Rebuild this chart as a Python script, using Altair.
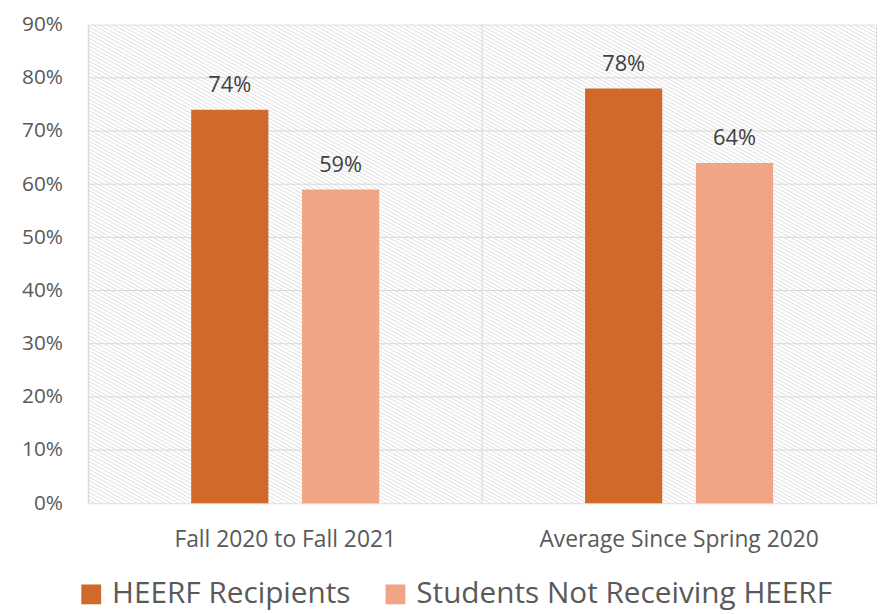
import altair as alt
import pandas as pd
import numpy as np

# ---- data ----
categories = ["Fall 2020 to Fall 2021", "Average Since Spring 2020"]
series = ["HEERF Recipients", "Students Not Receiving HEERF"]
heerf_values = [74, 78]
non_heerf_values = [59, 64]
y_ticks = [0, 10, 20, 30, 40, 50, 60, 70, 80, 90]
colors = ["#D0692A", "#F1A586"]

rows = []
for ci, cat in enumerate(categories):
    rows.append({"category": cat, "series": series[0], "value": heerf_values[ci]})
    rows.append({"category": cat, "series": series[1], "value": non_heerf_values[ci]})
df = pd.DataFrame(rows)
df["label"] = df["value"].astype(int).astype(str) + "%"

W, H = 796, 483
FONT = "Open Sans"
GRID = "#d9d9d9"

# decorative background hatch (diagonal lines), built in pixel units
slope = 0.55
dx = H / slope
hatch_starts = np.arange(-dx, W + 8, 7.0)
hatch = pd.DataFrame({"x": hatch_starts, "x2": hatch_starts + dx,
                      "y": [90] * len(hatch_starts), "y2": [0] * len(hatch_starts)})

yscale = alt.Scale(domain=[0, 90], nice=False, zero=True)
xscale = alt.Scale(paddingInner=0, paddingOuter=0)
yaxis = alt.Axis(title=None, values=y_ticks, labelExpr="datum.value + '%'",
                 ticks=False, domain=False, grid=False, labelFont=FONT,
                 labelFontSize=21, labelColor="#595959", labelPadding=26)

hatch_layer = alt.Chart(hatch).mark_rule(color="#dedede", strokeWidth=1, clip=True).encode(
    x=alt.X("x:Q", scale=alt.Scale(domain=[0, W], nice=False, zero=False), axis=None),
    x2="x2:Q",
    y=alt.Y("y:Q", scale=yscale, axis=yaxis),
    y2="y2:Q",
)

grid_df = pd.DataFrame({"g": y_ticks[1:-1]})
grid_layer = alt.Chart(grid_df).mark_rule(color=GRID, strokeWidth=1).encode(
    y=alt.Y("g:Q", scale=yscale, axis=yaxis)
)

cat_df = pd.DataFrame({"category": categories})
divider_layer = alt.Chart(cat_df).mark_rule(color=GRID, strokeWidth=1).encode(
    x=alt.X("category:N", sort=categories, scale=xscale, bandPosition=0, axis=None)
)

xoff = alt.XOffset("series:N", sort=series,
                   scale=alt.Scale(paddingInner=0.3036, paddingOuter=0.9286))

bars = alt.Chart(df).mark_bar().encode(
    x=alt.X("category:N", sort=categories, scale=xscale,
            axis=alt.Axis(title=None, ticks=False, domain=False, grid=False, labelAngle=0,
                          orient="bottom", labelFont=FONT, labelFontSize=23,
                          labelColor="#595959", labelPadding=26, labelLimit=0)),
    xOffset=xoff,
    y=alt.Y("value:Q", scale=yscale, axis=yaxis),
    color=alt.Color("series:N", sort=series,
                    scale=alt.Scale(domain=series, range=colors),
                    legend=alt.Legend(title=None, orient="none", legendX=-12, legendY=560,
                                      direction="horizontal", symbolType="square",
                                      symbolSize=400, symbolStrokeWidth=0,
                                      labelFont=FONT, labelFontSize=30,
                                      labelColor="#595959", labelOffset=6,
                                      columnPadding=30, labelLimit=0)),
)

labels = alt.Chart(df).mark_text(font=FONT, fontSize=22, color="#404040", baseline="middle",
                                 dy=-25).encode(
    x=alt.X("category:N", sort=categories, scale=xscale, axis=None),
    xOffset=xoff,
    y=alt.Y("value:Q", scale=yscale, axis=yaxis),
    text="label:N",
)

chart = alt.layer(hatch_layer, grid_layer, divider_layer, bars, labels).resolve_scale(
    x="independent"
).properties(
    width=W - 1, height=H,
    autosize=alt.AutoSizeParams(type="none"),
    padding={"left": 81, "top": 14, "right": 2, "bottom": 108},
).configure_view(stroke=GRID, strokeWidth=1).configure(background="white")

chart.save("out.html", embed_options={"renderer": "svg", "actions": False})
